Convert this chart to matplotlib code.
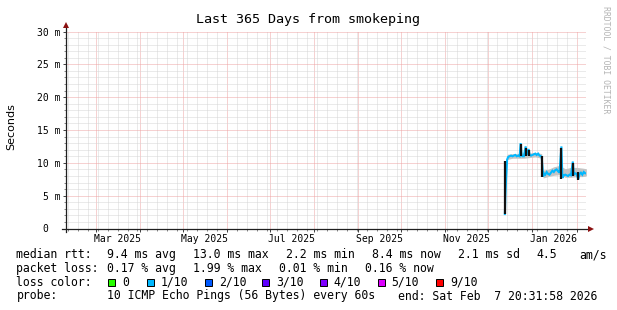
import matplotlib
matplotlib.use("Agg")
import matplotlib.pyplot as plt
import matplotlib.dates as mdates
from matplotlib.patches import Rectangle
import pandas as pd

# ---------------- data ----------------
title = "Last 365 Days from smokeping"
start = pd.Timestamp("2025-02-07 20:31:58")
end = pd.Timestamp("2026-02-07 20:31:58")

median_times = [
    "2025-12-12 16:00", "2025-12-13 00:00", "2025-12-13 12:00", "2025-12-14 06:00",
    "2025-12-15", "2025-12-16", "2025-12-17", "2025-12-18", "2025-12-19", "2025-12-20",
    "2025-12-21", "2025-12-22", "2025-12-23", "2025-12-23 18:00", "2025-12-24 12:00",
    "2025-12-25", "2025-12-26", "2025-12-27 06:00", "2025-12-28", "2025-12-29 08:00",
    "2025-12-30", "2025-12-31", "2026-01-01", "2026-01-02", "2026-01-03", "2026-01-04",
    "2026-01-05", "2026-01-06", "2026-01-07", "2026-01-07 12:00", "2026-01-08 12:00",
    "2026-01-09", "2026-01-10", "2026-01-11", "2026-01-12", "2026-01-13", "2026-01-14",
    "2026-01-15", "2026-01-16", "2026-01-17", "2026-01-18", "2026-01-19", "2026-01-20",
    "2026-01-21 08:00", "2026-01-22", "2026-01-23", "2026-01-24", "2026-01-25",
    "2026-01-26", "2026-01-27", "2026-01-28", "2026-01-29 08:00", "2026-01-30",
    "2026-01-31", "2026-02-01", "2026-02-02 04:00", "2026-02-03", "2026-02-04",
    "2026-02-05", "2026-02-06", "2026-02-07", "2026-02-07 20:00",
]
median_ms = [
    2.2, 4.8, 7.4, 10.5,
    10.9, 11.0, 11.1, 11.0, 11.1, 11.2,
    11.0, 11.1, 11.0, 13.0, 11.1,
    11.0, 11.0, 12.5, 11.2, 12.1,
    11.2, 11.1, 11.2, 11.3, 11.4, 11.2,
    11.4, 11.1, 11.0, 10.9, 7.9,
    8.4, 8.2, 8.6, 8.3, 8.2, 8.5,
    8.8, 8.6, 8.9, 9.0, 8.7, 8.5,
    12.5, 7.7, 8.1, 8.2, 8.1,
    8.0, 8.2, 8.1, 10.2, 8.2,
    8.4, 8.3, 7.5, 8.3, 8.5,
    8.2, 8.6, 8.4, 8.4,
]

smoke_times = [
    "2025-12-14 06:00", "2025-12-18", "2025-12-22", "2025-12-26", "2025-12-30",
    "2026-01-03", "2026-01-07 12:00", "2026-01-08 12:00", "2026-01-12", "2026-01-16",
    "2026-01-20", "2026-01-24", "2026-01-28", "2026-02-01", "2026-02-05", "2026-02-07 20:00",
]
smoke_lo = [10.5, 10.7, 10.7, 10.7, 10.8, 10.9, 10.7, 7.7, 7.9, 8.1, 8.2, 7.8, 7.8, 7.9, 7.9, 8.0]
smoke_hi = [11.3, 11.4, 11.4, 11.5, 11.5, 11.6, 11.4, 8.9, 9.0, 9.4, 9.6, 9.1, 9.3, 9.3, 9.2, 9.1]

spike_times = ["2025-12-13 00:00", "2025-12-23 18:00", "2025-12-27 06:00", "2025-12-29 08:00",
               "2026-01-07 18:00", "2026-01-21 08:00", "2026-01-29 08:00", "2026-02-02 04:00"]
spike_lo = [2.2, 11.0, 11.0, 11.0, 7.9, 7.6, 8.0, 7.4]
spike_hi = [10.3, 12.8, 12.3, 11.9, 11.0, 12.3, 10.0, 8.6]

y_ticks = [0, 5, 10, 15, 20, 25, 30]
y_tick_labels = ["0  ", "5 m", "10 m", "15 m", "20 m", "25 m", "30 m"]
x_label_dates = ["2025-03-16", "2025-05-16", "2025-07-16", "2025-09-16", "2025-11-16", "2026-01-16"]
x_labels = ["Mar 2025", "May 2025", "Jul 2025", "Sep 2025", "Nov 2025", "Jan 2026"]

median_legend = [("median rtt:", 16.5), ("9.4 ms avg", 106.9), ("13.0 ms max", 192.6),
                 ("2.2 ms min", 285.7), ("8.4 ms now", 372.3), ("2.1 ms sd", 458.3),
                 ("4.5", 536.7), ("am/s", 579.3)]
loss_legend = [("packet loss:", 16.5), ("0.17 % avg", 106.9), ("1.99 % max", 192.6),
               ("0.01 % min", 279.0), ("0.16 % now", 365.0)]
loss_color_labels = ["0", "1/10", "2/10", "3/10", "4/10", "5/10", "9/10"]
loss_colors = ["#26ff00", "#00b8ff", "#0059ff", "#5e00ff", "#7e00ff", "#dd00ff", "#ff0000"]
loss_box_x = [108.3, 146.6, 204.8, 262.0, 319.8, 377.7, 436.0]
probe_legend = [("probe:", 16.5), ("10 ICMP Echo Pings (56 Bytes) every 60s", 106.9),
                ("end: Sat Feb  7 20:31:58 2026", 398.3)]

# ---------------- figure ----------------
W, H = 617, 310
MONO = "DejaVu Sans Mono"
fig = plt.figure(figsize=(W / 100, H / 100), dpi=100)
fig.patch.set_facecolor("white")

x0, x1 = 66.0, 586.4
ytop, ybot = 31.5, 228.5
ax = fig.add_axes([x0 / W, 1 - ybot / H, (x1 - x0) / W, (ybot - ytop) / H])
ax.set_xlim(mdates.date2num(start), mdates.date2num(end))
ax.set_ylim(0, 30)
for s in ax.spines.values():
    s.set_visible(False)
ax.set_axisbelow(True)

# grid
ax.set_yticks(y_ticks)
ax.set_yticklabels(y_tick_labels, family=MONO, fontsize=7)
ax.set_yticks(range(0, 31), minor=True)
ax.xaxis.set_major_locator(mdates.MonthLocator())
ax.xaxis.set_minor_locator(mdates.WeekdayLocator(byweekday=mdates.SU))
ax.xaxis.set_major_formatter(plt.NullFormatter())
ax.grid(which="minor", color="#d6d6d6", lw=0.72, ls=(0, (1, 1)))
ax.grid(which="major", color="#eea4a4", lw=0.72, ls=(0, (1, 1)))
ax.tick_params(which="major", length=2.2, width=0.7, color="#404040", pad=2)
ax.tick_params(which="minor", length=1.2, width=0.6, color="#707070")

# axes lines with arrows
ph = ybot - ytop
pw = x1 - x0
ax.plot([0, 0], [-3 / ph, 1 + 6 / ph], transform=ax.transAxes, color="#202020", lw=0.9, clip_on=False, zorder=5)
ax.plot([0], [1 + 6.5 / ph], marker="^", ms=4.5, color="#8b1010", transform=ax.transAxes, clip_on=False, zorder=6, mew=0)
ax.plot([-4 / pw, 1 + 3 / pw], [0, 0], transform=ax.transAxes, color="#202020", lw=0.9, clip_on=False, zorder=5)
ax.plot([1 + 5 / pw], [0], marker=">", ms=4.5, color="#8b1010", transform=ax.transAxes, clip_on=False, zorder=6, mew=0)

# x labels
for d, lab in zip(x_label_dates, x_labels):
    ax.annotate(lab, xy=(mdates.date2num(pd.Timestamp(d)), 0), xycoords=("data", "axes fraction"),
                xytext=(0, -7.4), textcoords="offset points", ha="center", va="center",
                fontsize=7, family=MONO, annotation_clip=False)

# data
mt = mdates.date2num(pd.to_datetime(median_times, format="mixed"))
st = mdates.date2num(pd.to_datetime(smoke_times, format="mixed"))
ax.fill_between(st, smoke_lo, smoke_hi, color="#c4c4c4", lw=0, zorder=2)
ax.plot(mt, median_ms, color="#00b8ff", lw=1.5, zorder=3, solid_joinstyle="miter")
spt = mdates.date2num(pd.to_datetime(spike_times, format="mixed"))
ax.vlines(spt, spike_lo, spike_hi, color="#111111", lw=1.6, zorder=4)

# y label, title, watermark
fig.text(11 / W, 1 - 127 / H, "Seconds", rotation=90, ha="center", va="center", fontsize=8, family="DejaVu Sans")
fig.text(308.5 / W, 1 - 19 / H, title, ha="center", va="center", fontsize=9.6, family=MONO)
fig.text(606 / W, 1 - 59.5 / H, "RRDTOOL / TOBI OETIKER", rotation=270, ha="center", va="center",
         fontsize=5.9, family=MONO, color="#b4b4b4")

# legend
LEG = 8.3
def line(items, y):
    for txt, x in items:
        fig.text(x / W, 1 - y / H, txt, ha="left", va="center", fontsize=LEG, family=MONO, color="black")

line(median_legend, 254.5)
line(loss_legend, 268.3)
line([("loss color:", 16.5)], 282.3)
for lab, col, bx in zip(loss_color_labels, loss_colors, loss_box_x):
    fig.patches.append(Rectangle((bx / W, 1 - 285.8 / H), 7 / W, 7 / H, transform=fig.transFigure,
                                 facecolor=col, edgecolor="black", lw=0.7, figure=fig))
    fig.text((bx + 14) / W, 1 - 282.3 / H, lab, ha="left", va="center", fontsize=LEG, family=MONO)
line(probe_legend, 296.0)

fig.savefig("out.png", dpi=100)
